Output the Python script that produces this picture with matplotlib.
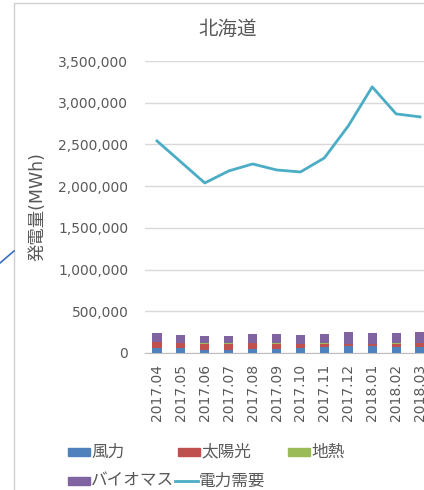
import numpy as np
import matplotlib
matplotlib.use('Agg')
import matplotlib.pyplot as plt
from matplotlib.patches import Rectangle
from matplotlib.lines import Line2D
from matplotlib.ticker import FuncFormatter

plt.rcParams['font.family'] = ['DejaVu Sans', 'Noto Sans CJK JP']

months = ['2017.04', '2017.05', '2017.06', '2017.07', '2017.08', '2017.09',
          '2017.10', '2017.11', '2017.12', '2018.01', '2018.02', '2018.03']

# 発電量 (MWh)
wind = [60000, 55000, 40000, 35000, 50000, 50000, 55000, 75000, 80000, 80000, 75000, 70000]
solar = [70000, 65000, 70000, 75000, 65000, 60000, 50000, 35000, 25000, 25000, 35000, 50000]
geo = [4000, 4000, 4000, 4000, 4000, 4000, 4000, 4000, 4000, 4000, 4000, 4000]
biomass = [107000, 97000, 95000, 95000, 110000, 115000, 110000, 115000, 140000, 125000, 120000, 130000]
demand = [2542000, 2290000, 2038000, 2182000, 2266000, 2194000,
          2170000, 2338000, 2722000, 3190000, 2866000, 2830000]

c_wind = '#4F81BD'
c_solar = '#C0504D'
c_geo = '#9BBB59'
c_bio = '#8064A2'
c_dem = '#4BACC6'
txt = '#595959'

W, H = 424, 490
fig = plt.figure(figsize=(W / 100, H / 100), dpi=100)

def fx(px):
    return px / W

def fy(py):
    return 1 - py / H

# 外枠とつなぎ線
fig.patches.append(Rectangle((fx(14), -0.1), 1.2, fy(3) + 0.1, transform=fig.transFigure,
                             fill=False, edgecolor='#d0d0d0', linewidth=1))
fig.lines.append(Line2D([0, fx(14)], [fy(263), fy(251)], transform=fig.transFigure,
                        color='#3a6bc4', linewidth=1.2))

ax = fig.add_axes([fx(145), fy(353), (432 - 145) / W, (353 - 61) / H])
x = np.arange(len(months))
bw = 0.38
b = np.zeros(len(months))
for vals, col in [(wind, c_wind), (solar, c_solar), (geo, c_geo), (biomass, c_bio)]:
    ax.bar(x, vals, bw, bottom=b, color=col, zorder=3)
    b += np.array(vals)
ax.plot(x, demand, color=c_dem, linewidth=2, zorder=4)

ax.set_xlim(-0.5, len(months) - 0.5)
ax.set_ylim(0, 3500000)
ax.set_yticks(np.arange(0, 3500001, 500000))
ax.yaxis.set_major_formatter(FuncFormatter(lambda v, p: f'{int(v):,}'))
ax.set_xticks(x)
ax.set_xticklabels(months, rotation=90)
ax.grid(axis='y', color='#d9d9d9', linewidth=1, zorder=0)
for s in ['top', 'right', 'left']:
    ax.spines[s].set_visible(False)
ax.spines['bottom'].set_color('#bfbfbf')
ax.tick_params(length=0, labelsize=10, colors=txt)
ax.tick_params(axis='y', pad=12)
ax.tick_params(axis='x', pad=8)

fig.text(fx(37), fy(207), '発電量(MWh)', rotation=90, ha='center', va='center',
         fontsize=12.5, color=txt)

fig.text(fx(228), fy(29), '北海道', ha='center', va='center', fontsize=14,
         color=txt, family=['Noto Sans CJK JP'])

# 凡例
def key_box(x0, yc, col, label):
    fig.patches.append(Rectangle((fx(x0), fy(yc + 4)), 22 / W, 8 / H,
                                 transform=fig.transFigure, color=col))
    fig.text(fx(x0 + 23), fy(yc), label, ha='left', va='center', fontsize=12,
             color=txt, family=['Noto Sans CJK JP'])

def key_line(x0, yc, col, label):
    fig.lines.append(Line2D([fx(x0), fx(x0 + 23)], [fy(yc), fy(yc)],
                            transform=fig.transFigure, color=col, linewidth=2))
    fig.text(fx(x0 + 24), fy(yc), label, ha='left', va='center', fontsize=12,
             color=txt, family=['Noto Sans CJK JP'])

key_box(68, 452, c_wind, '風力')
key_box(178, 452, c_solar, '太陽光')
key_box(288, 452, c_geo, '地熱')
key_box(68, 481, c_bio, 'バイオマス')
key_line(175, 481, c_dem, '電力需要')

fig.savefig('out.png', dpi=100)
